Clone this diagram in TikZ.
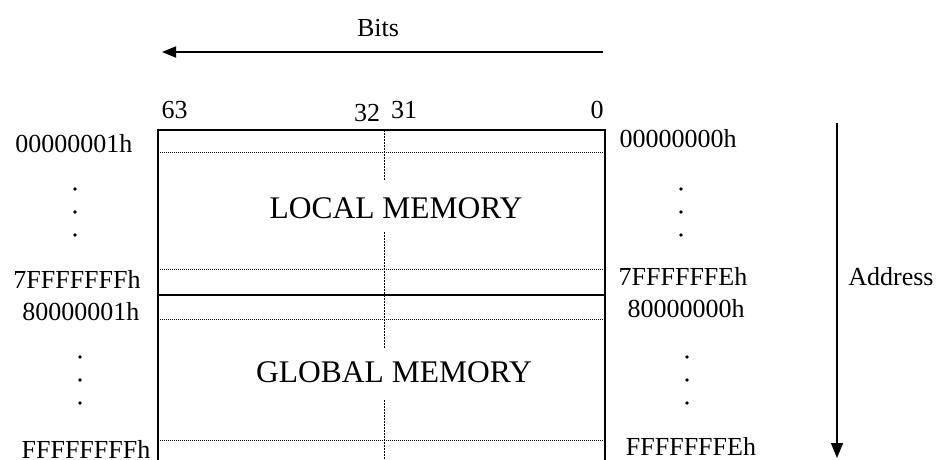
\documentclass[tikz,border=0pt]{standalone}
\usepackage{fontspec}
\setmainfont{Liberation Serif}
\usetikzlibrary{arrows.meta}
\begin{document}
\begin{tikzpicture}[x=1pt,y=-1pt,
  lbl/.style={anchor=base,inner sep=0pt,font=\fontsize{26}{30}\selectfont},
  big/.style={anchor=base,inner sep=0pt,font=\fontsize{31.5}{36}\selectfont},
  frame/.style={line width=2pt},
  row/.style={line width=0.8pt,dash pattern=on 0.8pt off 1.2pt},
  col/.style={line width=1pt,dash pattern=on 1.5pt off 1.5pt},
  bitaxis/.style={line width=1.8pt,-{Triangle[length=14pt,width=11pt]}},
  addraxis/.style={line width=1.3pt,-{Triangle[length=15pt,width=12pt]}},
  dot/.style={circle,fill=black,inner sep=0pt,minimum size=3.8pt}]
\useasboundingbox (0,0) rectangle (938,459);

% bit direction
\node[lbl] (bits) at (378,36) {Bits};
\coordinate (bitsR) at (603,52);
\coordinate (bitsL) at (162,52);
\draw[bitaxis] (bitsR) -- (bitsL);

% bit numbers
\node[lbl] (b63) at (174.5,118) {63};
\node[lbl] (b32) at (367,121) {32};
\node[lbl] (b31) at (404,118) {31};
\node[lbl] (b0)  at (597,118) {0};

% memory frame
\coordinate (tl) at (158,130);
\coordinate (tr) at (605,130);
\coordinate (bl) at (158,460);
\coordinate (br) at (605,460);
\draw[frame] (bl) -- (tl) -- (tr) -- (br);

% split between local and global halves
\coordinate (splitL) at (158,295);
\coordinate (splitR) at (605,295);
\draw[frame] (splitL) -- (splitR);

% first and last rows of each half
\foreach \y/\n in {152/ra,269/rb,319/rc,440/rd}{
  \coordinate (\n L) at (158,\y);
  \coordinate (\n R) at (605,\y);
  \draw[row] (\n L) -- (\n R);
}

% boundary between bit 32 and bit 31
\coordinate (c1) at (384,130);
\coordinate (c2) at (384,180);
\coordinate (c3) at (384,232);
\coordinate (c4) at (384,348);
\coordinate (c5) at (384,400);
\coordinate (c6) at (384,460);
\draw[col] (c1) -- (c2);
\draw[col] (c3) -- (c4);
\draw[col] (c5) -- (c6);

\node[big] (local)  at (396,218) {LOCAL MEMORY};
\node[big] (global) at (394,382) {GLOBAL MEMORY};

% addresses, left column
\node[lbl] (la1) at (74,152) {00000001h};
\node[dot] (ld1) at (75,189) {};
\node[dot] (ld2) at (75,212) {};
\node[dot] (ld3) at (75,235) {};
\node[lbl] (la2) at (77,288) {7FFFFFFFh};
\node[lbl] (la3) at (81,320) {80000001h};
\node[dot] (ld4) at (80,357) {};
\node[dot] (ld5) at (80,380) {};
\node[dot] (ld6) at (80,403) {};
\node[lbl] (la4) at (86,458) {FFFFFFFFh};

% addresses, right column
\node[lbl] (ra1) at (678,147) {00000000h};
\node[dot] (rd1) at (681,189) {};
\node[dot] (rd2) at (681,212) {};
\node[dot] (rd3) at (681,235) {};
\node[lbl] (ra2) at (683,285) {7FFFFFFEh};
\node[lbl] (ra3) at (686,317) {80000000h};
\node[dot] (rd4) at (687,357) {};
\node[dot] (rd5) at (687,380) {};
\node[dot] (rd6) at (687,403) {};
\node[lbl] (ra4) at (691,455) {FFFFFFFEh};

% address direction
\coordinate (addrT) at (837,123);
\coordinate (addrB) at (837,458);
\draw[addraxis] (addrT) -- (addrB);
\node[lbl] (addr) at (891,285) {Address};
\end{tikzpicture}
\end{document}
